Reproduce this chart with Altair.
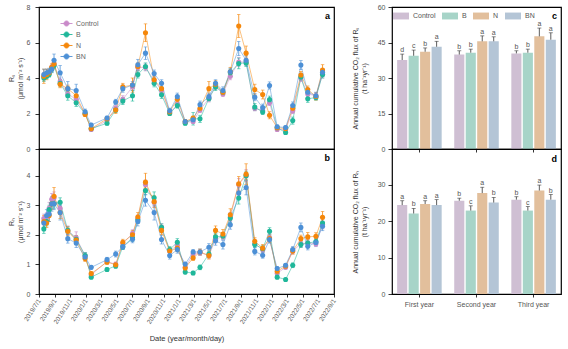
import altair as alt
import pandas as pd

TREATS = ["Control", "B", "N", "BN"]
LINE_COLORS = ["#C98AC9", "#1FB79A", "#F5870A", "#4D90D6"]
BAR_COLORS = ["#CFBFD3", "#A7D4C8", "#E2BF9C", "#B4C5D6"]

dates = ["2019/07/20", "2019/07/31", "2019/08/10", "2019/08/20", "2019/08/29", "2019/09/22",
         "2019/10/22", "2019/11/24", "2019/12/29", "2020/01/22", "2020/03/24", "2020/04/27",
         "2020/05/25", "2020/07/02", "2020/07/23", "2020/08/22", "2020/09/25", "2020/10/24",
         "2020/11/25", "2020/12/25", "2021/01/25", "2021/02/25", "2021/03/24", "2021/04/28",
         "2021/05/24", "2021/06/22", "2021/07/21", "2021/08/23", "2021/09/21", "2021/10/25",
         "2021/11/25", "2021/12/22", "2022/01/21", "2022/02/23", "2022/03/23", "2022/04/24",
         "2022/05/21", "2022/06/22", "2022/07/18"]

rs_control = [4.1, 4.2, 4.3, 4.6, 4.8, 3.8, 3.1, 2.8, 2.0, 1.1, 1.6, 2.3, 2.8, 3.5, 4.6, 4.6, 3.85, 3.3, 2.05, 2.5,
              1.5, 1.55, 2.2, 2.85, 3.55, 3.1, 4.1, 4.9, 4.9, 2.3, 2.15, 2.6, 1.1, 1.1, 2.15, 4.0, 3.1, 3.0, 4.2]
rs_b = [4.0, 4.1, 4.2, 4.5, 4.7, 3.7, 3.0, 2.6, 2.0, 1.15, 1.45, 2.2, 2.7, 3.0, 4.2, 4.65, 3.7, 3.05, 2.0, 2.45,
        1.45, 1.7, 1.7, 2.85, 3.5, 3.2, 4.3, 4.82, 4.85, 2.36, 2.09, 2.78, 1.2, 0.93, 1.6, 4.05, 2.83, 2.9, 4.2]
rs_n = [4.1, 4.2, 4.3, 4.6, 4.8, 3.65, 3.4, 3.0, 1.95, 1.15, 1.7, 2.2, 3.5, 3.6, 4.65, 6.55, 3.9, 3.4, 2.1, 2.8,
        1.55, 1.75, 2.3, 3.4, 3.65, 3.2, 4.35, 6.93, 5.4, 3.35, 3.07, 1.9, 1.2, 1.15, 2.3, 4.17, 3.35, 2.96, 4.45]
rs_bn = [4.2, 4.3, 4.35, 4.5, 5.0, 4.3, 3.4, 3.3, 2.1, 1.35, 1.75, 2.65, 3.4, 3.6, 4.75, 5.4, 4.25, 3.7, 2.15, 2.95,
         1.55, 1.65, 2.5, 2.95, 3.7, 3.3, 4.35, 5.66, 5.0, 2.92, 2.33, 3.58, 1.25, 1.21, 2.45, 4.73, 3.2, 3.0, 4.32]

rs_err_control = [0.2, 0.15, 0.15, 0.15, 0.2, 0.2, 0.2, 0.2, 0.1, 0.1, 0.1, 0.15, 0.2, 0.2, 0.2, 0.2, 0.15, 0.15, 0.1, 0.15,
                  0.1, 0.1, 0.15, 0.2, 0.2, 0.15, 0.2, 0.25, 0.2, 0.15, 0.15, 0.15, 0.1, 0.1, 0.15, 0.2, 0.15, 0.15, 0.2]
rs_err_b = [0.2, 0.15, 0.15, 0.2, 0.15, 0.2, 0.25, 0.2, 0.1, 0.1, 0.1, 0.15, 0.2, 0.3, 0.2, 0.2, 0.2, 0.2, 0.1, 0.15,
            0.1, 0.35, 0.2, 0.15, 0.2, 0.15, 0.2, 0.3, 0.2, 0.2, 0.15, 0.2, 0.1, 0.1, 0.2, 0.2, 0.2, 0.15, 0.2]
rs_err_n = [0.4, 0.3, 0.2, 0.2, 0.25, 0.2, 0.2, 0.2, 0.1, 0.1, 0.1, 0.2, 0.2, 0.4, 0.2, 0.5, 0.2, 0.25, 0.1, 0.2,
            0.1, 0.1, 0.2, 0.4, 0.2, 0.15, 0.25, 0.65, 0.4, 0.3, 0.25, 0.2, 0.1, 0.1, 0.2, 0.2, 0.2, 0.2, 0.3]
rs_err_bn = [0.3, 0.2, 0.2, 0.2, 0.35, 0.4, 0.4, 0.35, 0.15, 0.1, 0.1, 0.15, 0.2, 0.2, 0.3, 0.35, 0.2, 0.2, 0.15, 0.2,
             0.1, 0.15, 0.2, 0.2, 0.2, 0.2, 0.2, 0.4, 0.25, 0.2, 0.2, 0.2, 0.1, 0.1, 0.2, 0.25, 0.2, 0.2, 0.2]

rh_control = [2.55, 2.6, 2.9, 3.2, 3.25, 2.9, 2.15, 1.9, 1.3, 0.65, 1.1, 1.0, 1.7, 2.05, 2.55, 3.7, 3.1, 2.25, 1.45, 1.65,
              0.9, 1.35, 1.4, 1.3, 1.85, 1.95, 2.6, 3.7, 4.0, 1.7, 1.5, 1.9, 0.7, 0.9, 1.45, 1.7, 1.72, 1.7, 2.35]
rh_b = [2.2, 2.45, 2.85, 3.05, 3.05, 3.1, 2.15, 1.85, 1.3, 0.57, 0.83, 0.95, 1.6, 1.9, 2.5, 3.5, 3.25, 2.25, 1.5, 1.75,
        0.74, 0.71, 0.9, 1.35, 1.93, 1.96, 2.57, 3.24, 4.0, 1.67, 1.53, 2.12, 0.57, 0.49, 0.97, 1.67, 1.72, 1.77, 2.4]
rh_n = [2.45, 2.4, 2.65, 3.05, 3.3, 2.75, 2.12, 1.82, 1.2, 0.69, 1.08, 0.99, 1.75, 2.0, 2.6, 3.78, 3.12, 2.15, 1.45, 1.55,
        0.88, 1.22, 1.42, 1.3, 2.15, 2.03, 2.68, 3.72, 4.05, 1.78, 1.55, 1.87, 0.77, 0.94, 1.45, 1.87, 1.93, 1.95, 2.59]
rh_bn = [2.4, 2.65, 2.7, 3.05, 3.05, 2.75, 1.87, 1.72, 1.25, 0.9, 1.16, 1.35, 1.6, 1.85, 2.45, 3.17, 2.75, 1.84, 1.3, 1.5,
         1.01, 1.42, 1.42, 1.58, 1.8, 1.67, 2.34, 3.41, 3.6, 1.44, 1.31, 1.84, 0.86, 0.97, 1.5, 2.25, 1.61, 1.74, 2.29]

rh_err_control = [0.15, 0.15, 0.2, 0.2, 0.2, 0.15, 0.15, 0.2, 0.1, 0.05, 0.08, 0.08, 0.1, 0.12, 0.12, 0.15, 0.15, 0.12, 0.1, 0.15,
                  0.08, 0.08, 0.1, 0.1, 0.12, 0.12, 0.15, 0.2, 0.2, 0.1, 0.1, 0.12, 0.06, 0.06, 0.1, 0.12, 0.12, 0.1, 0.15]
rh_err_b = [0.15, 0.15, 0.15, 0.15, 0.15, 0.15, 0.12, 0.12, 0.1, 0.05, 0.06, 0.08, 0.1, 0.12, 0.12, 0.15, 0.2, 0.12, 0.1, 0.12,
            0.06, 0.06, 0.08, 0.1, 0.12, 0.1, 0.15, 0.2, 0.15, 0.1, 0.1, 0.12, 0.05, 0.05, 0.08, 0.1, 0.1, 0.1, 0.15]
rh_err_n = [0.2, 0.15, 0.2, 0.2, 0.3, 0.2, 0.15, 0.15, 0.1, 0.06, 0.08, 0.08, 0.1, 0.15, 0.15, 0.3, 0.2, 0.15, 0.1, 0.12,
            0.06, 0.08, 0.1, 0.12, 0.15, 0.15, 0.2, 0.25, 0.35, 0.12, 0.12, 0.12, 0.06, 0.06, 0.1, 0.12, 0.15, 0.12, 0.2]
rh_err_bn = [0.2, 0.2, 0.25, 0.25, 0.2, 0.25, 0.15, 0.15, 0.1, 0.06, 0.08, 0.1, 0.1, 0.12, 0.15, 0.2, 0.25, 0.15, 0.12, 0.12,
             0.06, 0.08, 0.1, 0.12, 0.15, 0.15, 0.15, 0.2, 0.25, 0.12, 0.1, 0.12, 0.06, 0.06, 0.1, 0.15, 0.12, 0.12, 0.15]

YEARS = ["First year", "Second year", "Third year"]
rs_bar_control = [37.6, 39.9, 40.4]
rs_bar_b = [39.4, 40.7, 40.7]
rs_bar_n = [41.1, 45.5, 47.6]
rs_bar_bn = [43.2, 45.5, 46.2]
rs_bar_err_control = [2.5, 1.6, 1.1]
rs_bar_err_b = [2.4, 1.5, 1.5]
rs_bar_err_n = [1.6, 2.3, 3.5]
rs_bar_err_bn = [2.3, 1.9, 2.9]
rs_letters_control = ["d", "b", "b"]
rs_letters_b = ["c", "b", "b"]
rs_letters_n = ["b", "a", "a"]
rs_letters_bn = ["a", "a", "a"]

rh_bar_control = [24.4, 25.6, 25.9]
rh_bar_b = [22.1, 22.9, 22.9]
rh_bar_n = [24.7, 27.7, 28.4]
rh_bar_bn = [24.4, 25.1, 25.9]
rh_bar_err_control = [1.2, 0.7, 0.8]
rh_bar_err_b = [1.4, 1.3, 1.1]
rh_bar_err_n = [0.9, 1.6, 1.5]
rh_bar_err_bn = [1.5, 1.4, 1.4]
rh_letters_control = ["a", "b", "b"]
rh_letters_b = ["b", "c", "c"]
rh_letters_n = ["a", "a", "a"]
rh_letters_bn = ["a", "b", "b"]

TICK_DATES = [(2019, 7), (2019, 9), (2019, 11), (2020, 1), (2020, 3), (2020, 5), (2020, 7), (2020, 9),
              (2020, 11), (2021, 1), (2021, 3), (2021, 5), (2021, 7), (2021, 9), (2021, 11), (2022, 1),
              (2022, 3), (2022, 5), (2022, 7), (2022, 9)]

# ---------- tables ----------
rows = []
series = [
    ("Control", rs_control, rs_err_control, rh_control, rh_err_control),
    ("B", rs_b, rs_err_b, rh_b, rh_err_b),
    ("N", rs_n, rs_err_n, rh_n, rh_err_n),
    ("BN", rs_bn, rs_err_bn, rh_bn, rh_err_bn),
]
for t, rs, rse, rh, rhe in series:
    for d, v, e, v2, e2 in zip(dates, rs, rse, rh, rhe):
        rows.append(dict(date=d, treatment=t, rs=v, rs_lo=v - e, rs_hi=v + e,
                         rh=v2, rh_lo=v2 - e2, rh_hi=v2 + e2))
ts = pd.DataFrame(rows)


def bar_table(vals, errs, lets):
    out = []
    for t, v, e, l in zip(TREATS, vals, errs, lets):
        for y, vv, ee, ll in zip(YEARS, v, e, l):
            out.append(dict(year=y, trt=t, value=vv, hi=vv + ee, letter=ll))
    return pd.DataFrame(out)


rs_bars = bar_table([rs_bar_control, rs_bar_b, rs_bar_n, rs_bar_bn],
                    [rs_bar_err_control, rs_bar_err_b, rs_bar_err_n, rs_bar_err_bn],
                    [rs_letters_control, rs_letters_b, rs_letters_n, rs_letters_bn])
rh_bars = bar_table([rh_bar_control, rh_bar_b, rh_bar_n, rh_bar_bn],
                    [rh_bar_err_control, rh_bar_err_b, rh_bar_err_n, rh_bar_err_bn],
                    [rh_letters_control, rh_letters_b, rh_letters_n, rh_letters_bn])

FONT = "Liberation Sans"
W_L, W_R, H_T, H_B = 295, 169, 142, 145
XDOM = [alt.DateTime(year=2019, month=7, date=1), alt.DateTime(year=2022, month=9, date=1)]
LEG_PATH = "M-1,0L1,0M0.42,0A0.42,0.42,0,1,1,-0.42,0A0.42,0.42,0,1,1,0.42,0Z"
RECT_PATH = "M-1,-0.43L1,-0.43L1,0.43L-1,0.43Z"

line_scale = alt.Scale(domain=TREATS, range=LINE_COLORS)
bar_scale = alt.Scale(domain=TREATS, range=BAR_COLORS)


def letter_layer(letter, w, x_off, y_off):
    return alt.Chart(pd.DataFrame({"t": [letter]})).mark_text(
        font="Liberation Sans", fontWeight="bold", fontSize=9, align="right", baseline="top", color="#000"
    ).encode(text="t:N", x=alt.value(w - x_off), y=alt.value(y_off))


def ts_panel(key, ydom, yvals, ytitle, height, xaxis, legend, letter):
    base = alt.Chart(ts)
    x = alt.X("date:T", scale=alt.Scale(domain=XDOM), axis=xaxis, title="Date (year/month/day)")
    ysc = alt.Scale(domain=ydom, nice=False, zero=False)
    yax = alt.Axis(values=yvals, title=ytitle, tickSize=4, labelPadding=5, titlePadding=3)
    y = alt.Y(f"{key}:Q", scale=ysc, axis=yax)
    col = alt.Color("treatment:N", scale=line_scale, legend=legend, sort=TREATS)
    # legend carrier (invisible marks) so the legend symbol gets both fill and stroke
    carrier = base.mark_point(filled=True, opacity=0, size=1).encode(
        x=x, y=y, color=col,
        stroke=alt.Stroke("treatment:N", scale=line_scale, legend=legend, sort=TREATS))
    line = base.mark_line(strokeWidth=0.8, opacity=0.65).encode(x=x, y=y, color=col)
    err = base.mark_errorbar(ticks=True, size=3.5, thickness=0.8).encode(
        x=x, y=alt.Y(f"{key}_lo:Q", scale=ysc, axis=yax), y2=f"{key}_hi:Q", color=col)
    pts = base.mark_point(filled=True, size=26, opacity=1).encode(x=x, y=y, color=col)
    return alt.layer(carrier, line, err, pts, letter_layer(letter, W_L, 4, 5)).properties(width=W_L, height=height)


def bar_panel(df, ydom, yvals, ytitle, height, xaxis, legend, letter, ly):
    base = alt.Chart(df)
    x = alt.X("year:N", sort=YEARS, scale=alt.Scale(paddingInner=0.22, paddingOuter=0.09), axis=xaxis)
    xo = alt.XOffset("trt:N", sort=TREATS, scale=alt.Scale(paddingInner=0.12))
    ysc = alt.Scale(domain=ydom, nice=False, zero=True)
    yax = alt.Axis(values=yvals, title=ytitle, tickSize=4, labelPadding=3, titlePadding=10)
    bars = base.mark_bar().encode(
        x=x, xOffset=xo, y=alt.Y("value:Q", scale=ysc, axis=yax),
        color=alt.Color("trt:N", scale=bar_scale, legend=legend, sort=TREATS))
    rule = base.mark_rule(color="#333", strokeWidth=0.8).encode(
        x=x, xOffset=xo, y=alt.Y("value:Q", scale=ysc, axis=yax), y2="hi:Q")
    cap = base.mark_tick(color="#333", thickness=0.8, size=4).encode(
        x=x, xOffset=xo, y=alt.Y("hi:Q", scale=ysc, axis=yax))
    txt = base.mark_text(font=FONT, fontSize=7, color="#555", baseline="bottom", dy=-1).encode(
        x=x, xOffset=xo, y=alt.Y("hi:Q", scale=ysc, axis=yax), text="letter:N")
    return alt.layer(bars, rule, cap, txt, letter_layer(letter, W_R, 4, ly)).properties(width=W_R, height=height)


ts_legend = alt.Legend(orient="none", legendX=21, legendY=10, title=None, symbolType=LEG_PATH,
                       symbolSize=144, symbolStrokeWidth=0.9, symbolOpacity=1, labelFontSize=7,
                       labelColor="#666", labelOffset=3, rowPadding=-2.7, padding=0)
bar_legend = alt.Legend(orient="none", legendX=1, legendY=1, title=None, direction="horizontal",
                        symbolType=RECT_PATH, symbolSize=256, symbolStrokeWidth=0, labelFontSize=7,
                        labelColor="#555", labelOffset=4, columnPadding=6, gridAlign="none", padding=0)

x_axis_b = alt.Axis(values=[alt.DateTime(year=y, month=m, date=1) for y, m in TICK_DATES],
                    format="%Y/%-m/%-d", labelAngle=-57, labelFontSize=6.5, tickSize=3,
                    labelOverlap=False, labelFlush=False, titleFontSize=7.5, titlePadding=10)

pa = ts_panel("rs", [0, 8], [0, 2, 4, 6, 8], ["Rₛ", "(μmol m⁻² s⁻¹)"], H_T, None, ts_legend, "a")
pb = ts_panel("rh", [0, 4.9], [0, 1, 2, 3, 4], ["Rₕ", "(μmol m⁻² s⁻¹)"], H_B, x_axis_b, None, "b")

x_axis_c = alt.Axis(labels=False, title=None, ticks=True, tickSize=3)
x_axis_d = alt.Axis(title=None, labelAngle=0, labelFontSize=7, tickSize=3, labelPadding=3)
pc = bar_panel(rs_bars, [0, 60], [0, 15, 30, 45, 60],
               ["Annual cumulative CO₂ flux of Rₛ", "(t ha⁻¹yr⁻¹)"], H_T, x_axis_c, bar_legend, "c", 5)
pd_ = bar_panel(rh_bars, [0, 39.8], [0, 10, 20, 30],
                ["Annual cumulative CO₂ flux of Rₕ", "(t ha⁻¹yr⁻¹)"], H_B, x_axis_d, None, "d", 6)

left = alt.vconcat(pa, pb, spacing=0, bounds="flush").resolve_scale(color="independent", stroke="independent")
right = alt.vconcat(pc, pd_, spacing=0, bounds="flush").resolve_scale(color="independent")

chart = alt.hconcat(left, right, spacing=12).resolve_scale(
    color="independent", stroke="independent"
).properties(
    padding={"left": 6, "top": 2, "right": 2, "bottom": 2}
).configure(font=FONT).configure_axis(
    labelFont=FONT, titleFont=FONT, labelFontSize=7, labelColor="#555", titleFontSize=7,
    titleColor="#333", titleFontWeight="normal", tickColor="#000", tickWidth=0.8,
    domain=False, grid=False
).configure_view(stroke="#000", strokeWidth=1.2).configure_legend(labelFont=FONT)

chart.save("out.html", embed_options={"renderer": "svg", "actions": False})
